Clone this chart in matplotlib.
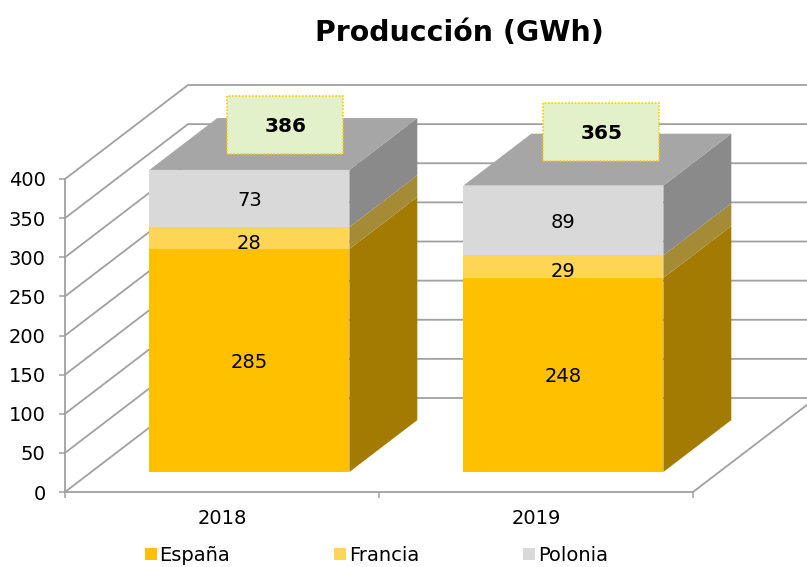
#!/usr/bin/env python3
"""Produccion (GWh) - stacked columns with a drawn 3D look."""

import numpy as np
import matplotlib
matplotlib.use('Agg')
import matplotlib.pyplot as plt
from matplotlib.lines import Line2D
from matplotlib.patches import Polygon, Rectangle
from matplotlib.transforms import IdentityTransform

# Data
years = ['2018', '2019']
espana = [285, 248]
francia = [28, 29]
polonia = [73, 89]
totals = [386, 365]
series_names = ['España', 'Francia', 'Polonia']
y_ticks = [0, 50, 100, 150, 200, 250, 300, 350, 400]

# Colours
FRONT_COLORS = ['#FFC000', '#FFD556', '#D9D9D9']
SIDE_COLORS = ['#A37B00', '#A58B36', '#8A8A8A']
TOP_COLOR = '#A6A6A6'
GRID_COLOR = '#A0A0A0'
TEXT_COLOR = '#000000'
BOX_FILL = '#E3F1CB'
BOX_EDGE = '#FFCC00'

# Layout in pixels (dpi is 100, so one display unit is one image pixel)
W, H = 807, 567
DEPTH_X, DEPTH_Y = 123, 94      # whole floor depth
BAR_NEAR = 0.213                # where the bars start along the depth
BAR_FAR = 0.765                 # where the bars end along the depth
BAR_WIDTH = 0.637
BAR_NUDGE = 1.2
BOX_W, BOX_H = 116, 58
BOX_SHIFT = [36, 38]
BOX_RISE = [45, 54]
LABEL_DROP = 2
FRANCIA_LABEL_DROP = 3
FONT_SIZE = 14

fig = plt.figure(figsize=(W / 100, H / 100), dpi=100)
ax = fig.add_axes([65 / W, (H - 492) / H, 628 / W, 313 / H])
ax.set_xlim(0, 2)
ax.set_ylim(0, 400)


def project(x, y, depth):
    """Data point to display coordinates, pushed back along the floor depth."""
    px, py = ax.transData.transform((x, y))
    return px + depth * DEPTH_X, py + depth * DEPTH_Y


def bar_point(x, y, depth):
    px, py = project(x, y, depth)
    return px + BAR_NUDGE, py


def add_face(points, color, zorder=2):
    ax.add_patch(Polygon(points, closed=True, facecolor=color, edgecolor='none',
                         transform=IdentityTransform(), clip_on=False, zorder=zorder))


# Walls and floor
for tick in y_ticks:
    a = project(0, tick, 0)
    b = project(0, tick, 1)
    c = project(2, tick, 1)
    ax.add_line(Line2D([a[0], b[0], c[0]], [a[1], b[1], c[1]], color=GRID_COLOR, lw=1.3,
                       transform=IdentityTransform(), clip_on=False, zorder=1))
a = project(2, 0, 0)
b = project(2, 0, 1)
ax.add_line(Line2D([a[0], b[0]], [a[1], b[1]], color=GRID_COLOR, lw=1.3,
                   transform=IdentityTransform(), clip_on=False, zorder=1))

# Columns
stack = np.array([espana, francia, polonia], dtype=float)
for i, year in enumerate(years):
    x0 = i + 0.5 - BAR_WIDTH / 2
    x1 = i + 0.5 + BAR_WIDTH / 2
    base = 0.0
    for s in range(3):
        top = base + stack[s, i]
        add_face([bar_point(x0, base, BAR_NEAR), bar_point(x1, base, BAR_NEAR),
                  bar_point(x1, top, BAR_NEAR), bar_point(x0, top, BAR_NEAR)], FRONT_COLORS[s])
        add_face([bar_point(x1, base, BAR_NEAR), bar_point(x1, base, BAR_FAR),
                  bar_point(x1, top, BAR_FAR), bar_point(x1, top, BAR_NEAR)], SIDE_COLORS[s])
        # value label on the front face
        lx, ly = bar_point(i + 0.5, (base + top) / 2, BAR_NEAR)
        ly -= LABEL_DROP
        if s == 1:
            ly -= FRANCIA_LABEL_DROP
        ax.text(lx, ly, f'{int(stack[s, i])}', transform=IdentityTransform(), ha='center',
                va='center', fontsize=FONT_SIZE, color=TEXT_COLOR, zorder=4)
        base = top
    add_face([bar_point(x0, base, BAR_NEAR), bar_point(x1, base, BAR_NEAR),
              bar_point(x1, base, BAR_FAR), bar_point(x0, base, BAR_FAR)], TOP_COLOR)

    # Total box
    cx, top_y = bar_point(i + 0.5, totals[i], BAR_NEAR)
    cx += BOX_SHIFT[i]
    cy = top_y + BOX_RISE[i]
    ax.add_patch(Rectangle((cx - BOX_W / 2, cy - BOX_H / 2), BOX_W, BOX_H, facecolor=BOX_FILL,
                           edgecolor=BOX_EDGE, lw=1.2, linestyle=(0, (1, 1)),
                           transform=IdentityTransform(), clip_on=False, zorder=5))
    ax.text(cx, cy - 1.5, f'{totals[i]}', transform=IdentityTransform(), ha='center', va='center',
            fontsize=14.5, fontweight='bold', color=TEXT_COLOR, zorder=6)

# Axes
ax.patch.set_visible(False)
for side in ['top', 'right']:
    ax.spines[side].set_visible(False)
for side in ['left', 'bottom']:
    ax.spines[side].set_color(GRID_COLOR)
    ax.spines[side].set_linewidth(1.3)
ax.set_yticks(y_ticks)
ax.set_xticks([0, 1, 2])
ax.set_xticklabels([])
ax.set_xticks([0.5, 1.5], minor=True)
ax.set_xticklabels(years, minor=True, fontsize=FONT_SIZE, color=TEXT_COLOR)
ax.tick_params(axis='x', which='major', length=4, width=1.1, color=GRID_COLOR)
ax.tick_params(axis='x', which='minor', length=0, pad=12)
ax.tick_params(axis='y', length=4, width=1.1, color=GRID_COLOR, pad=10, labelsize=FONT_SIZE,
               labelcolor=TEXT_COLOR)

# Title and legend
fig.text(459 / W, 1 - 33 / H, 'Producción (GWh)', ha='center', va='center', fontsize=20.4,
         fontweight='bold', color=TEXT_COLOR)
handles = [Line2D([], [], linestyle='none', marker='s', markersize=8, markeredgewidth=0,
                  color=c) for c in FRONT_COLORS]
# sits a few pixels higher than the reference so the descenders stay on the image
fig.legend(handles, series_names, ncol=3, frameon=False, fontsize=FONT_SIZE, handlelength=0.6,
           handletextpad=0.15, columnspacing=5.35, borderpad=0, borderaxespad=0,
           loc='center left', bbox_to_anchor=(145 / W, 1 - 555.5 / H))

fig.savefig('out.png', dpi=100)
